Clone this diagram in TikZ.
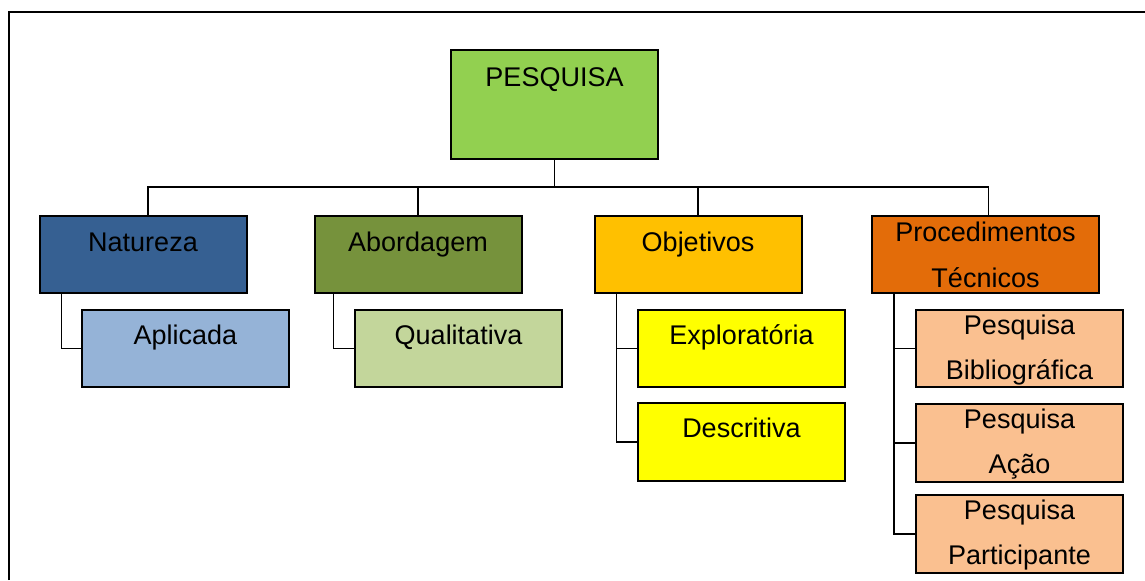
\documentclass[tikz,border=0pt]{standalone}
\usepackage{fontspec}
\setmainfont{Liberation Sans}
\usetikzlibrary{calc}
\definecolor{cPes}{HTML}{92D050}
\definecolor{cNat}{HTML}{366092}
\definecolor{cAbo}{HTML}{76923C}
\definecolor{cObj}{HTML}{FFC000}
\definecolor{cPro}{HTML}{E36C09}
\definecolor{cApl}{HTML}{95B3D7}
\definecolor{cQua}{HTML}{C3D69B}
\definecolor{cExp}{HTML}{FFFF00}
\definecolor{cPsq}{HTML}{FAC090}
\begin{document}
\begin{tikzpicture}[x=0.5pt,y=-0.5pt,
  box/.style={draw=black,line width=1pt,rectangle,inner sep=0pt,minimum width=103.5pt,minimum height=38.5pt},
  lbl/.style={anchor=base,inner sep=0pt,font=\fontsize{13.5}{23}\selectfont,text=black},
  conn/.style={draw=black,line width=0.9pt},
  frame/.style={draw=black,line width=1pt}]
\useasboundingbox (0,0) rectangle (1145,580);
\draw[frame] (9,580) -- (9,12) -- (1145,12);
% boxes
\node[box,fill=cPes,minimum height=54.5pt] (P) at (554.5,104.5) {};
\node[box,fill=cNat] (N) at (143,254.5) {};
\node[box,fill=cAbo] (A) at (418,254.5) {};
\node[box,fill=cObj] (O) at (698,254.5) {};
\node[box,fill=cPro,minimum width=113.5pt] (T) at (985.5,254.5) {};
\node[box,fill=cApl] (Ap) at (185.5,348.5) {};
\node[box,fill=cQua] (Q) at (458.5,348.5) {};
\node[box,fill=cExp] (E) at (741.5,348.5) {};
\node[box,fill=cExp,minimum height=39pt] (D) at (741.5,442) {};
\node[box,fill=cPsq] (PB) at (1019.5,348.5) {};
\node[box,fill=cPsq,minimum height=39pt] (PA) at (1019.5,443) {};
\node[box,fill=cPsq,minimum height=39pt] (PP) at (1019.5,534) {};
% texts
\node[lbl] (tP) at ($(P.north)+(0,37)$) {PESQUISA};
\node[lbl] (tN) at ($(N.north)+(0,36)$) {Natureza};
\node[lbl] (tA) at ($(A.north)+(0,36)$) {Abordagem};
\node[lbl] (tO) at ($(O.north)+(0,36)$) {Objetivos};
\node[lbl] (tT1) at ($(T.north)+(0,26)$) {Procedimentos};
\node[lbl] (tT2) at ($(T.north)+(0,72)$) {Técnicos};
\node[lbl] (tAp) at ($(Ap.north)+(0,35)$) {Aplicada};
\node[lbl] (tQ) at ($(Q.north)+(0,35)$) {Qualitativa};
\node[lbl] (tE) at ($(E.north)+(0,35)$) {Exploratória};
\node[lbl] (tD) at ($(D.north)+(0,35)$) {Descritiva};
\node[lbl] (tPB1) at ($(PB.north)+(0,25)$) {Pesquisa};
\node[lbl] (tPB2) at ($(PB.north)+(0,70)$) {Bibliográfica};
\node[lbl] (tPA1) at ($(PA.north)+(0,25)$) {Pesquisa};
\node[lbl] (tPA2) at ($(PA.north)+(0,70)$) {Ação};
\node[lbl] (tPP1) at ($(PP.north)+(0,25)$) {Pesquisa};
\node[lbl] (tPP2) at ($(PP.north)+(0,70)$) {Participante};
% connectors level 1
\coordinate (bus) at (557,187);
\coordinate (nb) at ($(N.north)+(5,0)$);
\coordinate (tb) at ($(T.north)+(3,0)$);
\draw[conn] (P.south) -- (P.south |- bus);
\draw[conn] (nb) -- (nb |- bus) -- (tb |- bus) -- (tb);
\draw[conn] (A.north) -- (A.north |- bus);
\draw[conn] (O.north) -- (O.north |- bus);
% connectors level 2
\coordinate (Nv) at ($(N.south west)+(23,0)$);
\coordinate (Av) at ($(A.south west)+(20,0)$);
\coordinate (Ov) at ($(O.south west)+(23,0)$);
\coordinate (Tv) at ($(T.south west)+(23,0)$);
\draw[conn] (Nv) |- (Ap.west);
\draw[conn] (Av) |- (Q.west);
\draw[conn] (Ov) |- (D.west);
\draw[conn] (E.west) -- (E.west -| Ov);
\draw[conn] (Tv) |- (PP.west);
\draw[conn] (PB.west) -- (PB.west -| Tv);
\draw[conn] (PA.west) -- (PA.west -| Tv);
\end{tikzpicture}
\end{document}
